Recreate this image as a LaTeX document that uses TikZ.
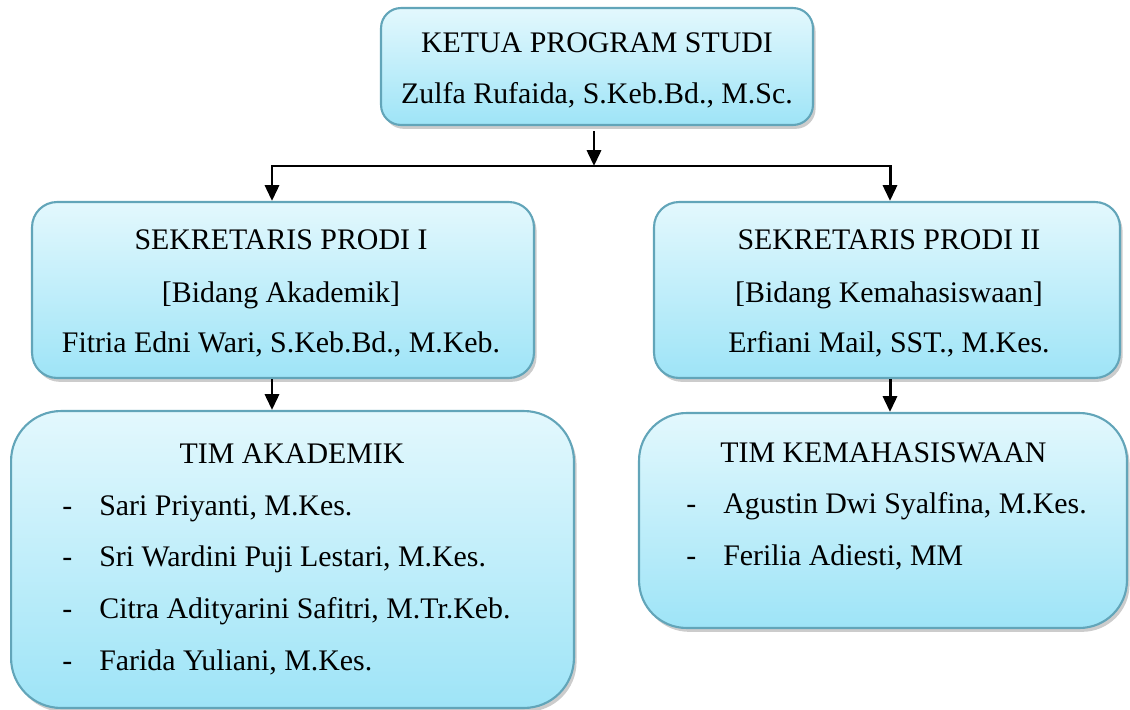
\documentclass[tikz,border=0pt]{standalone}
\usepackage{fontspec}
\setmainfont{Liberation Serif}
\usetikzlibrary{arrows.meta,shadows}

\definecolor{boxtop}{HTML}{E3F8FD}
\definecolor{boxbot}{HTML}{9EE4F7}
\definecolor{boxline}{HTML}{62A5B9}

\begin{document}
\begin{tikzpicture}[x=0.02cm,y=-0.02cm,
    box/.style={draw=boxline, line width=1.2pt, top color=boxtop, bottom color=boxbot,
        drop shadow={shadow xshift=1.5pt, shadow yshift=-2.2pt, opacity=0.4}},
    txt/.style={anchor=base, inner sep=0pt, font=\fontsize{17}{20}\selectfont},
    item/.style={txt, anchor=base west},
    arr/.style={line width=1.7pt, -{Triangle[length=9pt,width=8pt]}}]

    \useasboundingbox (0,0) rectangle (1130,710);

    % boxes
    \node[box, rounded corners=0.4cm, minimum width=8.64cm, minimum height=2.34cm] (kaprodi) at (597,66.5) {};
    \node[box, rounded corners=0.5cm, minimum width=10.04cm, minimum height=3.52cm] (sek1) at (283,290) {};
    \node[box, rounded corners=0.5cm, minimum width=9.32cm, minimum height=3.52cm] (sek2) at (887,290) {};
    \node[box, rounded corners=1cm, minimum width=11.26cm, minimum height=5.94cm] (timak) at (292.5,559.5) {};
    \node[box, rounded corners=0.95cm, minimum width=9.76cm, minimum height=4.3cm] (timkem) at (883,520.5) {};

    % texts
    \node[txt] (kaprodi-1) at (597,52)  {KETUA PROGRAM STUDI};
    \node[txt] (kaprodi-2) at (597,103) {Zulfa Rufaida, S.Keb.Bd., M.Sc.};

    \node[txt] (sek1-1) at (281,249) {SEKRETARIS PRODI I};
    \node[txt] (sek1-2) at (281,302) {[Bidang Akademik]};
    \node[txt] (sek1-3) at (281,352) {Fitria Edni Wari, S.Keb.Bd., M.Keb.};

    \node[txt] (sek2-1) at (889,249) {SEKRETARIS PRODI II};
    \node[txt] (sek2-2) at (889,302) {[Bidang Kemahasiswaan]};
    \node[txt] (sek2-3) at (889,352) {Erfiani Mail, SST., M.Kes.};

    \node[txt] (timak-0) at (292,463) {TIM AKADEMIK};
    \node[item] (timak-d1) at (62,515) {-};
    \node[item] (timak-1)  at (99,515) {Sari Priyanti, M.Kes.};
    \node[item] (timak-d2) at (62,566) {-};
    \node[item] (timak-2)  at (99,566) {Sri Wardini Puji Lestari, M.Kes.};
    \node[item] (timak-d3) at (62,618) {-};
    \node[item] (timak-3)  at (99,618) {Citra Adityarini Safitri, M.Tr.Keb.};
    \node[item] (timak-d4) at (62,670) {-};
    \node[item] (timak-4)  at (99,670) {Farida Yuliani, M.Kes.};

    \node[item] (timkem-0)  at (720,462) {TIM KEMAHASISWAAN};
    \node[item] (timkem-d1) at (686,513) {-};
    \node[item] (timkem-1)  at (723,513) {Agustin Dwi Syalfina, M.Kes.};
    \node[item] (timkem-d2) at (686,565) {-};
    \node[item] (timkem-2)  at (723,565) {Ferilia Adiesti, MM};

    % connectors
    \coordinate (mid) at (594,166);
    \coordinate (midL) at (272,166);
    \coordinate (midR) at (890,166);

    \draw[arr] ([yshift=-3pt]kaprodi.south -| mid) -- (mid);
    \draw[arr] (mid) -- (midL) -- (sek1.north -| midL);
    \draw[arr] (mid) -- (midR) -- (sek2.north -| midR);
    \draw[arr] (sek1.south -| midL) -- (timak.north -| midL);
    \draw[arr] (sek2.south -| midR) -- (timkem.north -| midR);

\end{tikzpicture}
\end{document}
